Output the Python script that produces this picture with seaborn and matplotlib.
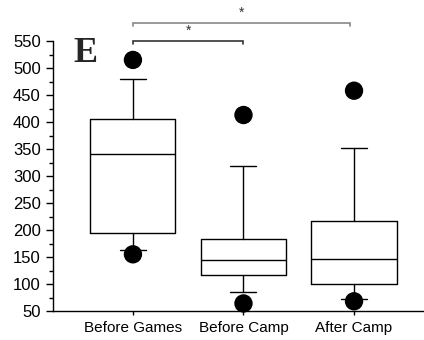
import matplotlib
matplotlib.use("Agg")
import matplotlib.pyplot as plt
from matplotlib.ticker import MultipleLocator
import pandas as pd
import seaborn as sns

# Summary statistics per group (whiskers at 10th/90th percentiles, dots at 5th/95th)
groups = ["Before Games", "Before Camp", "After Camp"]
whisker_low = [163, 86, 73]
q1 = [195, 116, 100]
median = [340, 145, 147]
q3 = [406, 184, 217]
whisker_high = [480, 318, 352]
outlier_low = [155, 64, 68]
outlier_high = [515, 413, 458]

# Significance brackets: (start group, end group, height)
brackets = [(0, 1, 550), (0, 1.96, 583)]
bracket_colors = ["#333333", "#888888"]
star_heights = [569, 602]

sns.set_theme(style="ticks")
plt.rcParams["font.family"] = ["Liberation Sans", "DejaVu Sans"]

fig = plt.figure(figsize=(4.24, 3.40), dpi=100)
ax = fig.add_axes([0.124, 0.0853, 0.876, 0.794])

stats = []
for i, name in enumerate(groups):
    stats.append(dict(label=name, whislo=whisker_low[i], q1=q1[i], med=median[i],
                      q3=q3[i], whishi=whisker_high[i], fliers=[]))

lw = 1.0
ax.bxp(stats, positions=[0, 1, 2], widths=0.77, capwidths=0.235,
       showfliers=False, patch_artist=False,
       boxprops=dict(color="black", linewidth=lw),
       medianprops=dict(color="black", linewidth=lw),
       whiskerprops=dict(color="black", linewidth=lw),
       capprops=dict(color="black", linewidth=lw))

# Extreme values as filled dots
pts = pd.DataFrame({
    "pos": [0, 1, 2, 0, 1, 2],
    "value": outlier_low + outlier_high,
})
sns.scatterplot(data=pts, x="pos", y="value", ax=ax, color="black", s=175,
                edgecolor="none", zorder=5, clip_on=False, legend=False)

ax.set_xlim(-0.727, 2.633)
ax.set_ylim(50, 550)
ax.set_xticks([0, 1, 2])
ax.set_xticklabels(groups)
ax.set_xlabel("")
ax.set_ylabel("")
ax.yaxis.set_major_locator(MultipleLocator(50))
ax.yaxis.set_minor_locator(MultipleLocator(25))
ax.tick_params(axis="y", which="major", length=5, width=1, labelsize=12, pad=3.5, colors="black")
ax.tick_params(axis="y", which="minor", length=3, width=1, color="black")
ax.tick_params(axis="x", which="major", length=3, width=1, labelsize=11, pad=4, colors="black")
for side in ["left", "bottom"]:
    ax.spines[side].set_color("black")
    ax.spines[side].set_linewidth(1)
sns.despine(ax=ax, top=True, right=True)

# Significance brackets
for (x0, x1, h), c, sh in zip(brackets, bracket_colors, star_heights):
    ax.plot([x0, x0, x1, x1], [h - 6, h, h, h - 6], color=c, linewidth=1.2,
            clip_on=False, solid_joinstyle="miter")
    ax.text((x0 + x1) / 2, sh, "*", ha="center", va="center", fontsize=10,
            color="#333333", clip_on=False)

# Panel letter
fig.text(73 / 424, 1 - 62 / 340, "E", fontsize=26, fontweight="bold",
         family=["Liberation Serif", "DejaVu Serif"], ha="left", va="baseline")

fig.savefig("out.png", dpi=100, facecolor="white")
